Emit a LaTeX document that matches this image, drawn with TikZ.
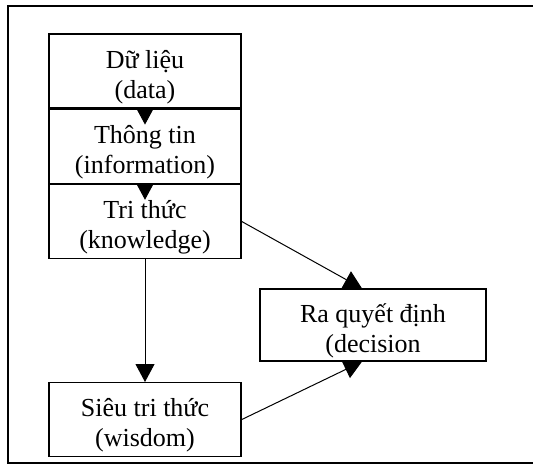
\documentclass[tikz,border=0pt]{standalone}
\usepackage{fontspec}
\setmainfont{Liberation Serif}
\usetikzlibrary{positioning,arrows.meta}

\begin{document}
\begin{tikzpicture} [
    auto,
    block/.style    = { rectangle, draw, line width=0.6pt, align=center,
                        font=\fontsize{13}{15}\selectfont,
                        text height=30pt, text depth=3pt, inner ysep=1pt,
                        minimum width=96pt, minimum height=37pt },
    line/.style     = { draw, line width=0.5pt,
                        -{Triangle[length=9pt,width=9.5pt]} },
    stepline/.style = { draw, line width=0.5pt,
                        -{Triangle[length=8pt,width=8.5pt]} },
  ]

  \useasboundingbox (0,0) rectangle (266.5pt,-233pt);

  % frame
  \draw[line width=0.6pt] (266.5pt,-3pt) -- (4pt,-3pt) -- (4pt,-231.5pt) -- (266.5pt,-231.5pt);

  % Define nodes
  \node[block] (data) at (72.5pt,-35.5pt) {Dữ liệu\\(data)};
  \node[block, below=0pt of data] (info) {Thông tin\\(information)};
  \node[block, below=0pt of info] (know) {Tri thức\\(knowledge)};
  \node[block, below=61.5pt of know] (wisdom) {Siêu tri thức\\(wisdom)};
  \node[block, minimum width=113pt, minimum height=36pt] (decision) at (186.5pt,-162.5pt) {Ra quyết định\\(decision};

  % connect the nodes
  \path [stepline] (data.south) -- ([yshift=-8pt]info.north);
  \path [stepline] (info.south) -- ([yshift=-8pt]know.north);
  \path [line] (know.south) -- (wisdom.north);
  \path [line] (know.east) -- ([xshift=-5.5pt]decision.north);
  \path [line] (wisdom.east) -- ([xshift=-5.5pt]decision.south);
\end{tikzpicture}
\end{document}
